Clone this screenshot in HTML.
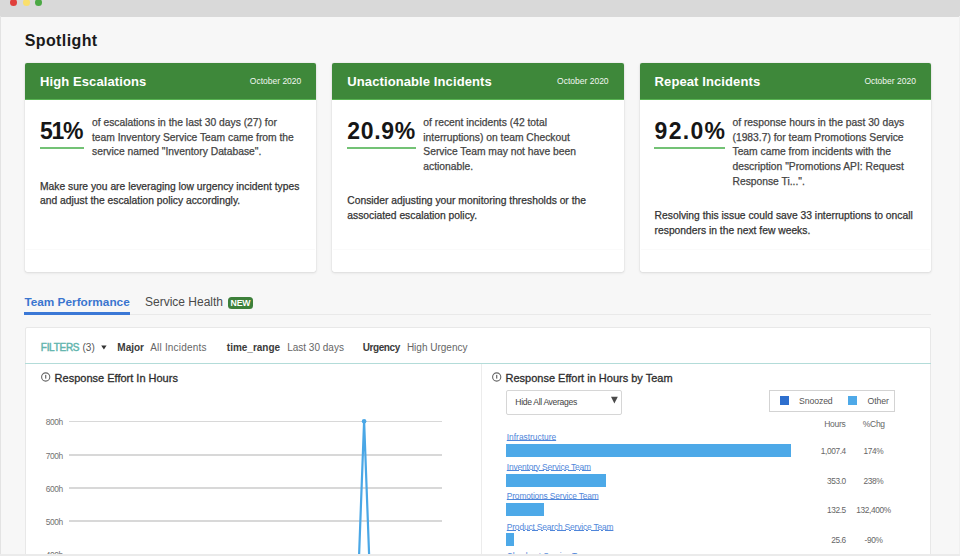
<!DOCTYPE html>
<html><head><meta charset="utf-8"><title>Spotlight</title>
<style>
*{margin:0;padding:0;box-sizing:border-box}
html,body{width:960px;height:556px;overflow:hidden}
body{position:relative;background:#f7f7f7;font-family:"Liberation Sans",Arial,sans-serif;color:#333}
.a{position:absolute;white-space:nowrap}
#topbar{left:0;top:0;width:960px;height:16.7px;background:#d9d9d9}
.dot{position:absolute;width:7.4px;height:7.4px;border-radius:50%;top:-1.3px}
#lb{left:0;top:16px;width:1px;height:540px;background:#e3e3e3}
#rb{left:959px;top:16px;width:1px;height:540px;background:#f0f0f0}
#bb{left:0;top:554.2px;width:960px;height:2px;background:#ebebeb}
#title{left:24.7px;top:30.9px;font-size:16px;line-height:20px;font-weight:bold;color:#1a1a1a;letter-spacing:.4px}
.card{position:absolute;top:62.6px;width:291.3px;height:209.8px;background:#fff;border-radius:2px;box-shadow:0 0 1px rgba(0,0,0,.22),0 1px 3px rgba(0,0,0,.10);overflow:hidden}
.hd{position:absolute;left:0;top:0;width:100%;height:37px;background:#3e883a;border-bottom:1.7px solid #58b352}
.ht{position:absolute;left:15px;top:11px;font-size:13px;line-height:16px;font-weight:bold;color:#fff;white-space:nowrap;letter-spacing:.1px}
.hdt{position:absolute;right:15px;top:13.9px;font-size:8.5px;line-height:10px;color:#f2f7f1;white-space:nowrap}
.num{position:absolute;left:15px;top:55.2px;font-size:23px;line-height:26px;font-weight:bold;color:#161616;white-space:nowrap}
.ul{position:absolute;height:2.2px;top:84.7px;background:#73c275}
.desc{position:absolute;top:53.2px;font-size:10.3px;line-height:14.8px;color:#444;white-space:nowrap;-webkit-text-stroke:.25px #444}
.p2{position:absolute;left:15px;font-size:10.3px;line-height:14.6px;color:#333;white-space:nowrap;-webkit-text-stroke:.25px #333}
.sep{position:absolute;left:1px;right:1px;top:186.3px;height:1px;background:#fafafa}

.tab1{left:24.4px;top:295.1px;font-size:11.8px;line-height:14px;font-weight:bold;color:#3a75cf}
#tabul{left:24.4px;top:312.3px;width:105.2px;height:2.6px;background:#3b78d6}
.tab2{left:145px;top:295px;font-size:12px;line-height:14px;color:#4a4a4a}
#newb{left:227.6px;top:296.6px;width:25.8px;height:12.8px;background:#3d803a;border-radius:3.5px;color:#fff;font-size:8.7px;font-weight:bold;line-height:13px;text-align:center;letter-spacing:-.1px}
#tabline{left:25px;top:314px;width:905.5px;height:1px;background:#e9e9e9}
#panel{left:24.6px;top:326.9px;width:906px;height:260px;background:#fff;border:1px solid #e8e8e8;border-radius:2px}
.f{top:341.6px;font-size:10px;line-height:12px;color:#666}
.fb{font-weight:bold;color:#3a3a3a}
#teal{left:25px;top:362.5px;width:905.5px;height:1.6px;background:#b3dcd9}
#vdiv{left:480.8px;top:364px;width:1px;height:200px;background:#ececec}
.ct{top:371.6px;font-size:11px;line-height:13px;color:#2e2e2e;-webkit-text-stroke:.3px #2e2e2e}
.yl{font-size:8.4px;line-height:10px;color:#727272;letter-spacing:-.4px;text-align:right;width:30px}
.gl{left:69.4px;width:373.1px;height:1.5px;background:#d8d8d8}
#dd{left:506.1px;top:390.2px;width:115.7px;height:24.5px;border:1px solid #d6d6d6;border-radius:2px;background:#fff}
.sm{font-size:8px;line-height:10px;color:#555}
#leg{left:769px;top:389.5px;width:125.5px;height:22.3px;border:1px solid #d3d3d3;background:#fff}
.sw{width:9.2px;height:8.7px}
.lk{font-size:8.4px;line-height:10px;color:#4f86da;text-decoration:underline;text-decoration-thickness:.7px;text-underline-offset:.4px;letter-spacing:-.15px;margin-top:.7px}
.bar{left:506.3px;height:13px;background:#4da9e8}
.val{font-size:8.3px;line-height:10px;color:#666;text-align:right;width:40px;left:805.9px;letter-spacing:-.35px;margin-top:-.3px}
.pc{font-size:8.3px;line-height:10px;color:#666;text-align:center;width:50px;left:848.5px;letter-spacing:-.35px;margin-top:-.3px}
</style></head><body>
<div id="topbar" class="a">
  <div class="dot" style="left:9.5px;background:#e0403c"></div>
  <div class="dot" style="left:22.5px;background:#fadf6c"></div>
  <div class="dot" style="left:34.9px;background:#4ba844"></div>
</div>
<div id="lb" class="a"></div><div id="rb" class="a"></div>
<div id="title" class="a">Spotlight</div>

<div class="card" style="left:25px">
  <div class="hd"><div class="ht">High Escalations</div><div class="hdt">October 2020</div></div>
  <div class="num" style="letter-spacing:-1.3px">51%</div>
  <div class="ul" style="left:14.5px;width:44.5px"></div>
  <div class="desc" style="left:67px">of escalations in the last 30 days (27) for<br>team Inventory Service Team came from the<br>service named "Inventory Database".</div>
  <div class="p2" style="top:117.2px">Make sure you are leveraging low urgency incident types<br>and adjust the escalation policy accordingly.</div>
  <div class="sep"></div>
</div>

<div class="card" style="left:332.3px">
  <div class="hd"><div class="ht">Unactionable Incidents</div><div class="hdt">October 2020</div></div>
  <div class="num" style="letter-spacing:.7px">20.9%</div>
  <div class="ul" style="left:14.5px;width:69px"></div>
  <div class="desc" style="left:91px">of recent incidents (42 total<br>interruptions) on team Checkout<br>Service Team may not have been<br>actionable.</div>
  <div class="p2" style="top:131.8px">Consider adjusting your monitoring thresholds or the<br>associated escalation policy.</div>
  <div class="sep"></div>
</div>

<div class="card" style="left:639.6px">
  <div class="hd"><div class="ht">Repeat Incidents</div><div class="hdt">October 2020</div></div>
  <div class="num" style="letter-spacing:1.3px">92.0%</div>
  <div class="ul" style="left:14.2px;width:71.4px"></div>
  <div class="desc" style="left:92.9px">of response hours in the past 30 days<br>(1983.7) for team Promotions Service<br>Team came from incidents with the<br>description "Promotions API: Request<br>Response Ti...".</div>
  <div class="p2" style="top:146.4px">Resolving this issue could save 33 interruptions to oncall<br>responders in the next few weeks.</div>
  <div class="sep"></div>
</div>


<div class="a tab1">Team Performance</div>
<div id="tabline" class="a"></div>
<div id="tabul" class="a"></div>
<div class="a tab2">Service Health</div>
<div id="newb" class="a">NEW</div>

<div id="panel" class="a"></div>
<div class="a f" style="left:40.8px;color:#62b5ae;letter-spacing:-.28px;-webkit-text-stroke:.45px #62b5ae">FILTERS</div>
<div class="a f" style="left:82.5px;color:#555">(3)</div>
<svg class="a" style="left:100px;top:344px" width="8" height="7"><polygon points="1.2,1.5 6.6,1.5 3.9,5.6" fill="#333"/></svg>
<div class="a f fb" style="left:117.3px">Major</div>
<div class="a f" style="left:150.2px;letter-spacing:.2px">All Incidents</div>
<div class="a f fb" style="left:226.8px">time_range</div>
<div class="a f" style="left:287.2px">Last 30 days</div>
<div class="a f fb" style="left:362.7px;letter-spacing:-.4px">Urgency</div>
<div class="a f" style="left:406.9px">High Urgency</div>
<div id="teal" class="a"></div>
<div id="vdiv" class="a"></div>

<svg class="a" style="left:40px;top:371px" width="12" height="12" viewBox="0 0 12 12"><circle cx="5.7" cy="6.0" r="4.1" fill="none" stroke="#666" stroke-width="1.1"/><rect x="5.1" y="3.9" width="1.2" height="3.7" fill="#666"/></svg>
<div class="a ct" style="left:54.6px">Response Effort In Hours</div>
<div class="a yl" style="left:32.7px;top:417.4px">800h</div>
<div class="a yl" style="left:32.7px;top:450.6px">700h</div>
<div class="a yl" style="left:32.7px;top:483.8px">600h</div>
<div class="a yl" style="left:32.7px;top:517px">500h</div>
<div class="a yl" style="left:32.7px;top:550.2px">400h</div>
<div class="a gl" style="top:420.8px"></div>
<div class="a gl" style="top:454px"></div>
<div class="a gl" style="top:487.2px"></div>
<div class="a gl" style="top:520.4px"></div>
<div class="a gl" style="top:553.6px"></div>
<svg class="a" style="left:0;top:0" width="960" height="556"><polyline points="357.4,600 364.1,421 370.8,600" fill="none" stroke="#4aa7e6" stroke-width="2.2" stroke-linejoin="round"/><circle cx="364.1" cy="421.2" r="2.3" fill="#4aa7e6"/></svg>

<svg class="a" style="left:490.6px;top:371px" width="12" height="12" viewBox="0 0 12 12"><circle cx="5.7" cy="6.0" r="4.1" fill="none" stroke="#666" stroke-width="1.1"/><rect x="5.1" y="3.9" width="1.2" height="3.7" fill="#666"/></svg>
<div class="a ct" style="left:505.5px">Response Effort in Hours by Team</div>
<div id="dd" class="a"></div>
<div class="a sm" style="left:515.3px;top:397px;color:#444;font-size:8.6px;letter-spacing:-.33px">Hide All Averages</div>
<svg class="a" style="left:610px;top:396px" width="9" height="9"><polygon points="1,0.8 7.8,0.8 4.4,7.6" fill="#4a4a4a"/></svg>
<div id="leg" class="a"></div>
<div class="a sw" style="left:779.7px;top:396.3px;background:#2e6fce"></div>
<div class="a sm" style="left:799px;top:396.3px;font-size:8.7px;letter-spacing:-.1px">Snoozed</div>
<div class="a sw" style="left:848.2px;top:396.3px;background:#4ea9e8"></div>
<div class="a sm" style="left:867.6px;top:396.3px;font-size:8.7px;letter-spacing:-.1px">Other</div>
<div class="a sm" style="left:824.2px;top:419.3px;color:#666;font-size:8.5px;letter-spacing:-.3px">Hours</div>
<div class="a sm" style="left:862.8px;top:419.3px;color:#666;font-size:8.5px;letter-spacing:-.3px">%Chg</div>

<div class="a lk" style="left:506.8px;top:431.4px;letter-spacing:0">Infrastructure</div>
<div class="a bar" style="top:443.6px;width:284.7px"></div>
<div class="a val" style="top:446.6px">1,007.4</div><div class="a pc" style="top:446.6px">174%</div>
<div class="a lk" style="left:506.8px;top:460.9px">Inventory Service Team</div>
<div class="a bar" style="top:473.5px;width:100.2px"></div>
<div class="a val" style="top:476.2px">353.0</div><div class="a pc" style="top:476.2px">238%</div>
<div class="a lk" style="left:506.8px;top:490.4px">Promotions Service Team</div>
<div class="a bar" style="top:502.9px;width:37.9px"></div>
<div class="a val" style="top:505.6px">132.5</div><div class="a pc" style="top:505.6px">132,400%</div>
<div class="a lk" style="left:506.8px;top:520.9px">Product Search Service Team</div>
<div class="a bar" style="top:533px;width:8px"></div>
<div class="a val" style="top:535.5px">25.6</div><div class="a pc" style="top:535.5px">-90%</div>
<div class="a lk" style="left:506.8px;top:550.4px">Checkout Service Team</div>
<div id="bb" class="a"></div>
</body></html>
